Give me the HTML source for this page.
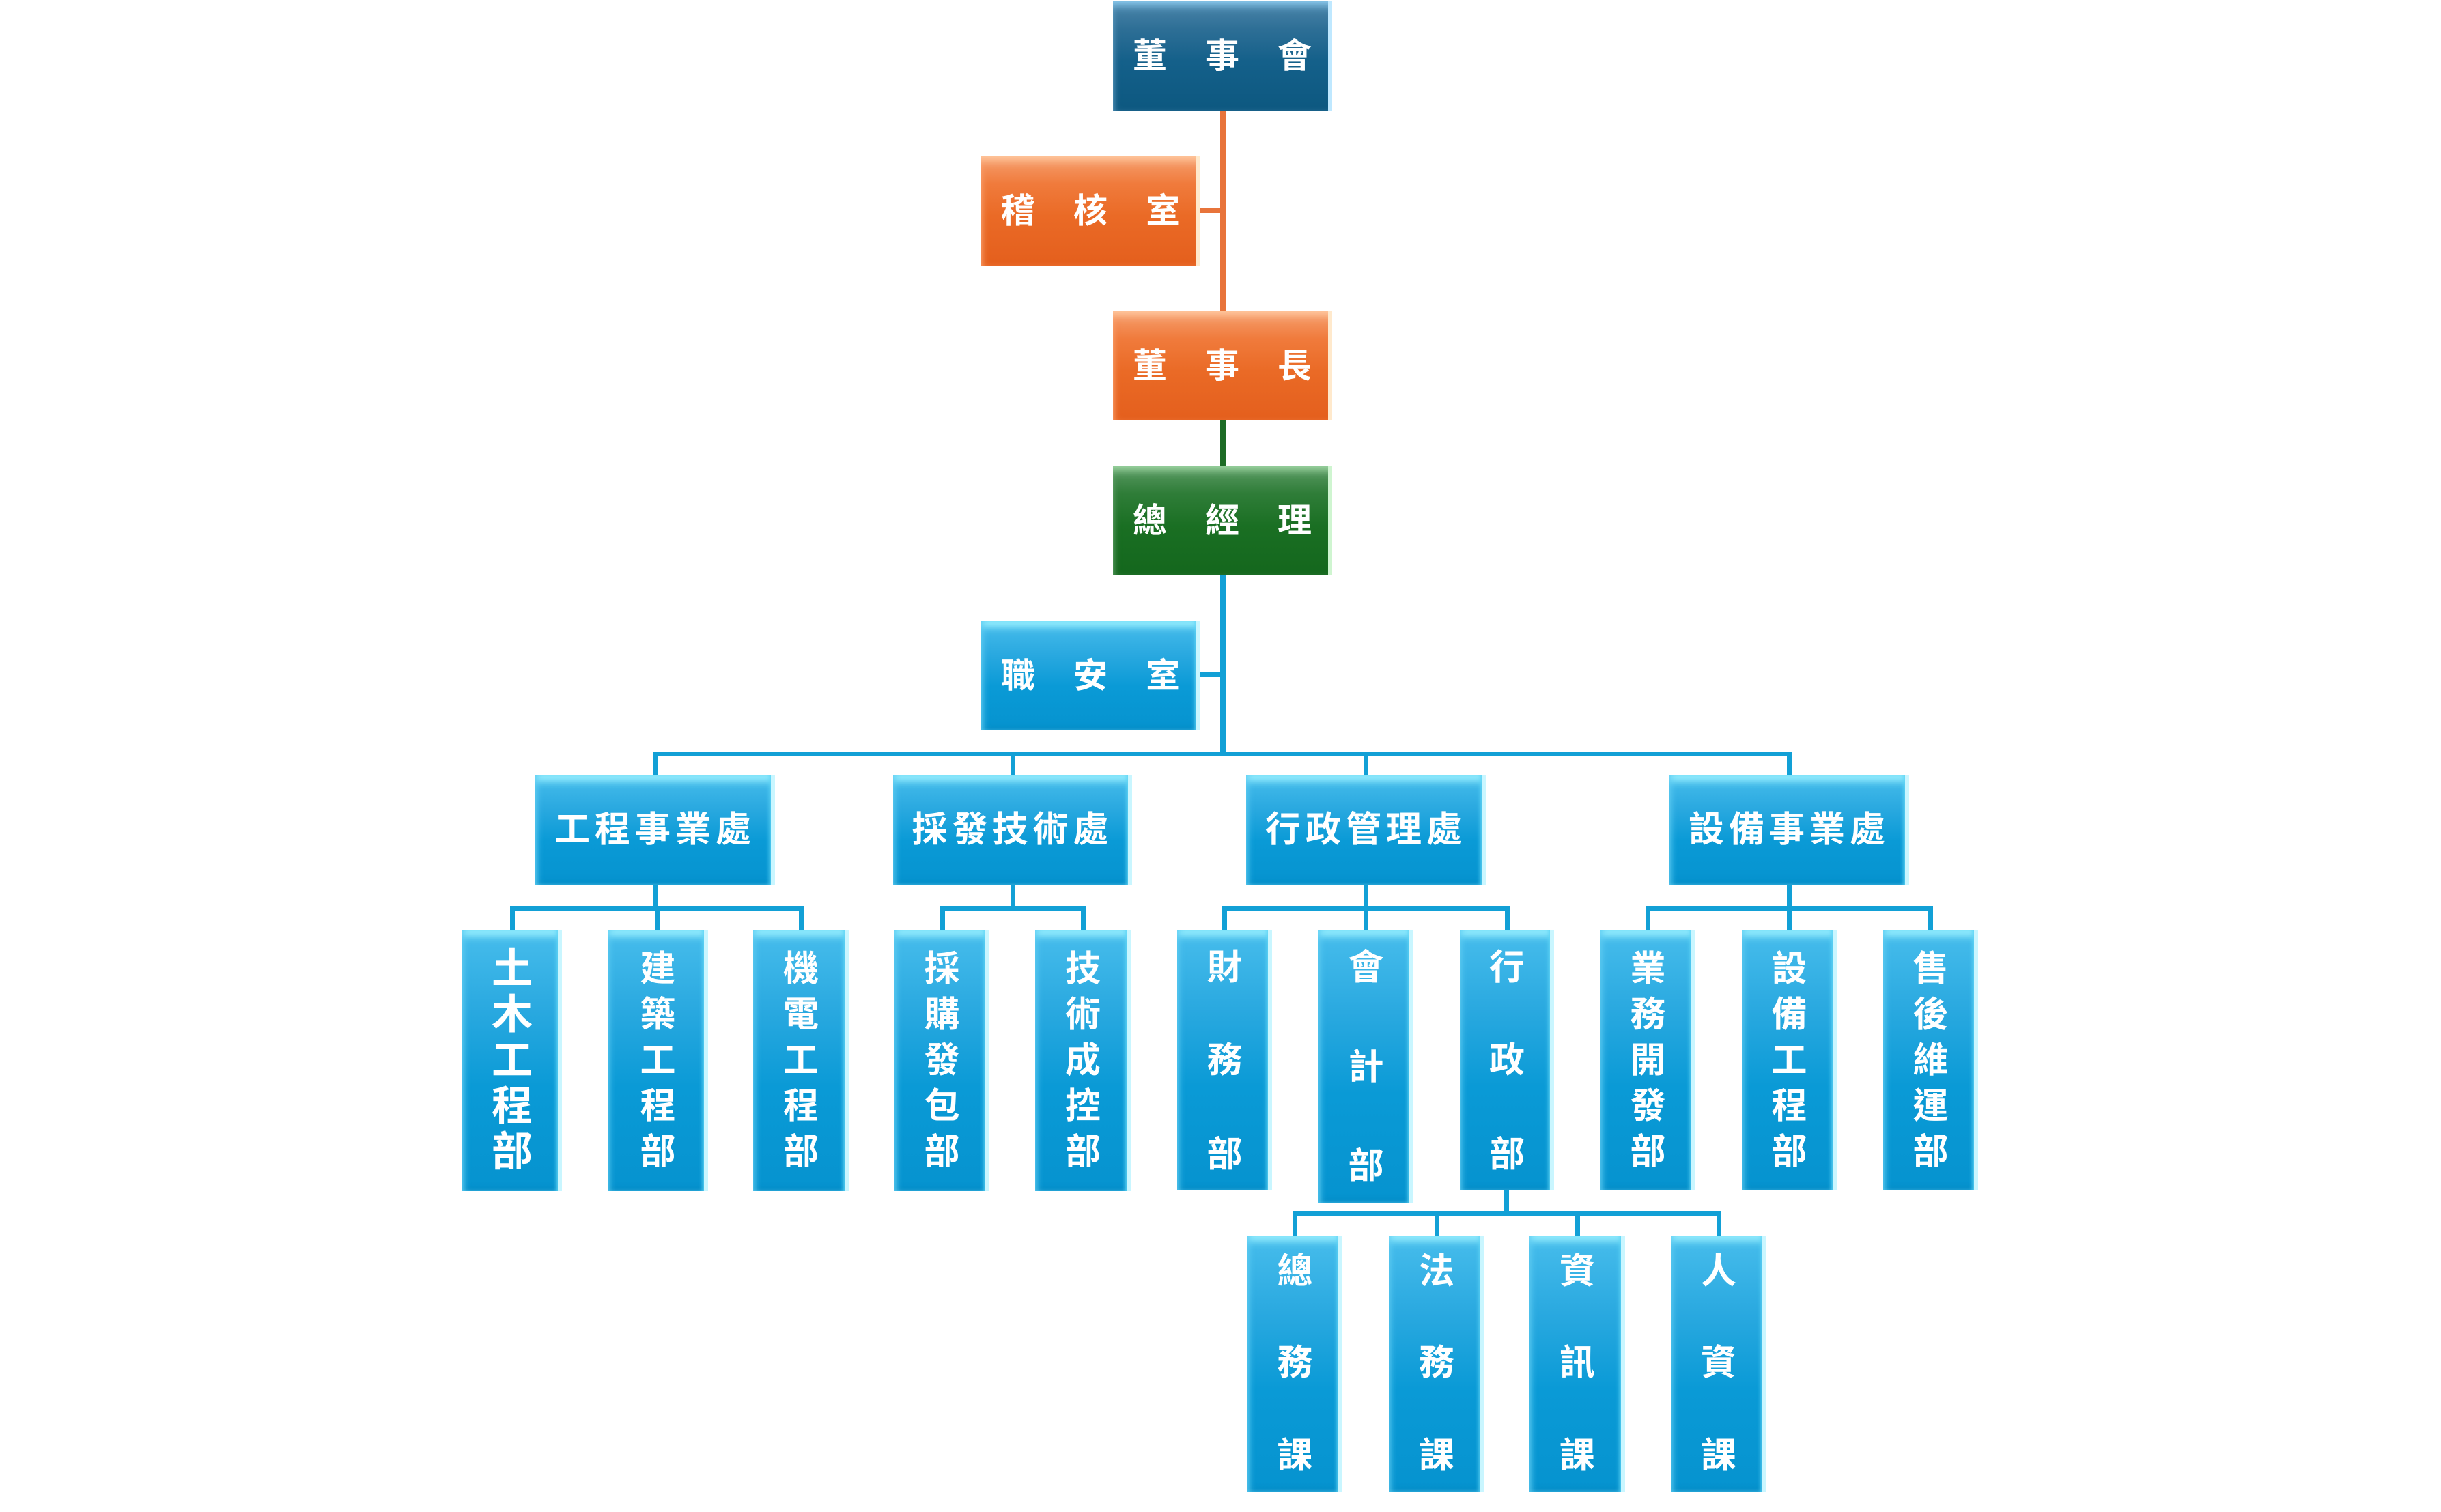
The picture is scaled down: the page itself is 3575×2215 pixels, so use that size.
<!DOCTYPE html>
<html><head><meta charset="utf-8"><style>
html,body{margin:0;padding:0;background:#fff;}
body{width:3575px;height:2215px;position:relative;overflow:hidden;font-family:"Liberation Sans","Noto Sans CJK TC",sans-serif;}
.l{position:absolute;}
.b{position:absolute;box-sizing:border-box;color:#fff;font-weight:bold;
 background:linear-gradient(#47bdec 0%,#2aa9e0 30%,#0a9ad6 60%,#0693cf 100%);
 box-shadow:inset -6px 0 0 #c9f6ff,inset -10px 0 6px -2px #5fd4f5,inset 6px 0 10px -4px #5ccbf3,inset 0 14px 12px -6px #9ff3ff,inset 0 -8px 10px -6px #0385bd;}
.navy{background:linear-gradient(#4d86ab 0%,#2e6f96 25%,#14608a 55%,#0d5880 100%);box-shadow:inset -6px 0 0 #bfe8ff,inset 0 12px 12px -6px #8ccbef,inset 6px 0 10px -4px #4c88ae;}
.org{background:linear-gradient(#f6a070 0%,#f07b3c 25%,#ea6a26 55%,#e45f1d 100%);box-shadow:inset -6px 0 0 #ffe9cc,inset 0 12px 12px -6px #ffc9a0,inset 6px 0 10px -4px #f9925a;}
.grn{background:linear-gradient(#5b9a64 0%,#2f7d38 25%,#1a6f23 55%,#14671d 100%);box-shadow:inset -6px 0 0 #cff5d0,inset 0 12px 12px -6px #9fd7a4,inset 6px 0 10px -4px #4d9055;}
.h{position:absolute;left:0;width:100%;text-align:center;white-space:nowrap;}
.c{position:absolute;left:0;width:100%;text-align:center;line-height:1;}
.t{position:absolute;top:54px;width:60px;text-align:center;font-size:50px;line-height:52px;}
</style></head><body>

<!-- connectors -->
<div class="l" style="left:1787px;top:160px;width:8px;height:298px;background:#e8743b"></div>
<div class="l" style="left:1758px;top:305px;width:33px;height:7px;background:#e8743b"></div>
<div class="l" style="left:1787px;top:614px;width:8px;height:72px;background:#1d6b26"></div>
<div class="l" style="left:1787px;top:842px;width:8px;height:266px;background:#12a0d6"></div>
<div class="l" style="left:1758px;top:985px;width:33px;height:7px;background:#12a0d6"></div>
<div class="l" style="left:956px;top:1101px;width:1668px;height:7px;background:#12a0d6"></div>
<div class="l" style="left:956px;top:1101px;width:7px;height:38px;background:#12a0d6"></div>
<div class="l" style="left:1480px;top:1101px;width:7px;height:38px;background:#12a0d6"></div>
<div class="l" style="left:1997px;top:1101px;width:7px;height:38px;background:#12a0d6"></div>
<div class="l" style="left:2617px;top:1101px;width:7px;height:38px;background:#12a0d6"></div>

<div class="l" style="left:956px;top:1295px;width:7px;height:38px;background:#12a0d6"></div>
<div class="l" style="left:747px;top:1327px;width:430px;height:7px;background:#12a0d6"></div>
<div class="l" style="left:747px;top:1327px;width:7px;height:38px;background:#12a0d6"></div>
<div class="l" style="left:960px;top:1327px;width:7px;height:38px;background:#12a0d6"></div>
<div class="l" style="left:1170px;top:1327px;width:7px;height:38px;background:#12a0d6"></div>

<div class="l" style="left:1480px;top:1295px;width:7px;height:38px;background:#12a0d6"></div>
<div class="l" style="left:1377px;top:1327px;width:213px;height:7px;background:#12a0d6"></div>
<div class="l" style="left:1377px;top:1327px;width:7px;height:38px;background:#12a0d6"></div>
<div class="l" style="left:1583px;top:1327px;width:7px;height:38px;background:#12a0d6"></div>

<div class="l" style="left:1997px;top:1295px;width:7px;height:38px;background:#12a0d6"></div>
<div class="l" style="left:1790px;top:1327px;width:421px;height:7px;background:#12a0d6"></div>
<div class="l" style="left:1790px;top:1327px;width:7px;height:38px;background:#12a0d6"></div>
<div class="l" style="left:1997px;top:1327px;width:7px;height:38px;background:#12a0d6"></div>
<div class="l" style="left:2204px;top:1327px;width:7px;height:38px;background:#12a0d6"></div>

<div class="l" style="left:2617px;top:1295px;width:7px;height:38px;background:#12a0d6"></div>
<div class="l" style="left:2410px;top:1327px;width:421px;height:7px;background:#12a0d6"></div>
<div class="l" style="left:2410px;top:1327px;width:7px;height:38px;background:#12a0d6"></div>
<div class="l" style="left:2617px;top:1327px;width:7px;height:38px;background:#12a0d6"></div>
<div class="l" style="left:2824px;top:1327px;width:7px;height:38px;background:#12a0d6"></div>

<div class="l" style="left:2203px;top:1742px;width:7px;height:38px;background:#12a0d6"></div>
<div class="l" style="left:1893px;top:1774px;width:628px;height:7px;background:#12a0d6"></div>
<div class="l" style="left:1893px;top:1774px;width:7px;height:38px;background:#12a0d6"></div>
<div class="l" style="left:2101px;top:1774px;width:7px;height:38px;background:#12a0d6"></div>
<div class="l" style="left:2307px;top:1774px;width:7px;height:38px;background:#12a0d6"></div>
<div class="l" style="left:2514px;top:1774px;width:7px;height:38px;background:#12a0d6"></div>

<!-- top boxes -->
<div class="b navy" style="left:1630px;top:2px;width:321px;height:160px;"><span class="t" style="left:24px">董</span><span class="t" style="left:130px">事</span><span class="t" style="left:236px">會</span></div>
<div class="b org" style="left:1437px;top:229px;width:321px;height:160px;"><span class="t" style="left:24px">稽</span><span class="t" style="left:130px">核</span><span class="t" style="left:236px">室</span></div>
<div class="b org" style="left:1630px;top:456px;width:321px;height:160px;"><span class="t" style="left:24px">董</span><span class="t" style="left:130px">事</span><span class="t" style="left:236px">長</span></div>
<div class="b grn" style="left:1630px;top:683px;width:321px;height:160px;"><span class="t" style="left:24px">總</span><span class="t" style="left:130px">經</span><span class="t" style="left:236px">理</span></div>
<div class="b" style="left:1437px;top:910px;width:321px;height:160px;"><span class="t" style="left:24px">職</span><span class="t" style="left:130px">安</span><span class="t" style="left:236px">室</span></div>

<!-- level 2 -->
<div class="b" style="left:784px;top:1136px;width:351px;height:160px;"><div class="h" style="top:53px;font-size:52px;line-height:54px;letter-spacing:7px;">工程事業處</div></div>
<div class="b" style="left:1308px;top:1136px;width:350px;height:160px;"><div class="h" style="top:53px;font-size:52px;line-height:54px;letter-spacing:7px;">採發技術處</div></div>
<div class="b" style="left:1825px;top:1136px;width:351px;height:160px;"><div class="h" style="top:53px;font-size:52px;line-height:54px;letter-spacing:7px;">行政管理處</div></div>
<div class="b" style="left:2445px;top:1136px;width:351px;height:160px;"><div class="h" style="top:53px;font-size:52px;line-height:54px;letter-spacing:7px;">設備事業處</div></div>

<!-- level 3 five-char -->
<div class="b" style="left:677px;top:1363px;width:146px;height:382px;font-size:60px;">
<span class="c" style="top:27px">土</span><span class="c" style="top:94px">木</span><span class="c" style="top:161px">工</span><span class="c" style="top:228px">程</span><span class="c" style="top:295px">部</span></div>
<div class="b" style="left:890px;top:1363px;width:147px;height:382px;font-size:52px;">
<span class="c" style="top:31px">建</span><span class="c" style="top:98px">築</span><span class="c" style="top:165px">工</span><span class="c" style="top:232px">程</span><span class="c" style="top:299px">部</span></div>
<div class="b" style="left:1103px;top:1363px;width:140px;height:382px;font-size:52px;">
<span class="c" style="top:31px">機</span><span class="c" style="top:98px">電</span><span class="c" style="top:165px">工</span><span class="c" style="top:232px">程</span><span class="c" style="top:299px">部</span></div>
<div class="b" style="left:1310px;top:1363px;width:139px;height:382px;font-size:52px;">
<span class="c" style="top:31px">採</span><span class="c" style="top:98px">購</span><span class="c" style="top:165px">發</span><span class="c" style="top:232px">包</span><span class="c" style="top:299px">部</span></div>
<div class="b" style="left:1516px;top:1363px;width:140px;height:382px;font-size:52px;">
<span class="c" style="top:31px">技</span><span class="c" style="top:98px">術</span><span class="c" style="top:165px">成</span><span class="c" style="top:232px">控</span><span class="c" style="top:299px">部</span></div>

<!-- level 3 three-char -->
<div class="b" style="left:1724px;top:1363px;width:139px;height:381px;font-size:52px;">
<span class="c" style="top:29px">財</span><span class="c" style="top:165px">務</span><span class="c" style="top:303px">部</span></div>
<div class="b" style="left:1931px;top:1363px;width:139px;height:399px;font-size:52px;">
<span class="c" style="top:29px">會</span><span class="c" style="top:175px">計</span><span class="c" style="top:320px">部</span></div>
<div class="b" style="left:2138px;top:1363px;width:138px;height:381px;font-size:52px;">
<span class="c" style="top:29px">行</span><span class="c" style="top:165px">政</span><span class="c" style="top:303px">部</span></div>

<div class="b" style="left:2344px;top:1363px;width:139px;height:381px;font-size:52px;">
<span class="c" style="top:31px">業</span><span class="c" style="top:98px">務</span><span class="c" style="top:165px">開</span><span class="c" style="top:232px">發</span><span class="c" style="top:299px">部</span></div>
<div class="b" style="left:2551px;top:1363px;width:139px;height:381px;font-size:52px;">
<span class="c" style="top:31px">設</span><span class="c" style="top:98px">備</span><span class="c" style="top:165px">工</span><span class="c" style="top:232px">程</span><span class="c" style="top:299px">部</span></div>
<div class="b" style="left:2758px;top:1363px;width:139px;height:381px;font-size:52px;">
<span class="c" style="top:31px">售</span><span class="c" style="top:98px">後</span><span class="c" style="top:165px">維</span><span class="c" style="top:232px">運</span><span class="c" style="top:299px">部</span></div>

<!-- level 4 -->
<div class="b" style="left:1827px;top:1810px;width:139px;height:375px;font-size:52px;">
<span class="c" style="top:27px">總</span><span class="c" style="top:161px">務</span><span class="c" style="top:297px">課</span></div>
<div class="b" style="left:2034px;top:1810px;width:140px;height:375px;font-size:52px;">
<span class="c" style="top:27px">法</span><span class="c" style="top:161px">務</span><span class="c" style="top:297px">課</span></div>
<div class="b" style="left:2240px;top:1810px;width:140px;height:375px;font-size:52px;">
<span class="c" style="top:27px">資</span><span class="c" style="top:161px">訊</span><span class="c" style="top:297px">課</span></div>
<div class="b" style="left:2447px;top:1810px;width:140px;height:375px;font-size:52px;">
<span class="c" style="top:27px">人</span><span class="c" style="top:161px">資</span><span class="c" style="top:297px">課</span></div>

</body></html>
